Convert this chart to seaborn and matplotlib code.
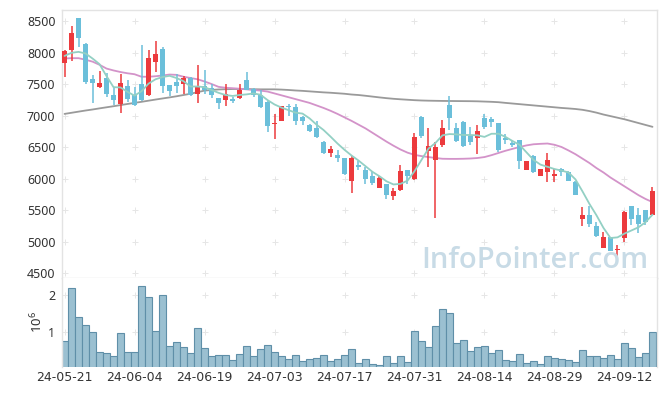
import matplotlib
matplotlib.use("Agg")
import matplotlib.pyplot as plt
import numpy as np
import pandas as pd
import seaborn as sns

# daily candles, 85 trading days (24-05-21 .. 24-09-20)
opens = [
    7840, 8045, 8550, 8140, 7580, 7450, 7600, 7325, 7180, 7470,
    7335, 7510, 7325, 7855, 8060, 7485, 7530, 7500, 7605, 7350,
    7480, 7445, 7280, 7245, 7265, 7280, 7565, 7430, 7335, 7220,
    6870, 6910, 7155, 7145, 6975, 6855, 6800, 6585, 6415, 6385,
    6335, 5970, 6220, 6135, 6040, 5855, 5910, 5730, 5815, 6135,
    5995, 6975, 6435, 6295, 6530, 7165, 6800, 6895, 6675, 6655,
    6965, 6945, 6880, 6650, 6570, 6615, 6145, 6365, 6045, 6115,
    6050, 6155, 6110, 5955, 5365, 5425, 5250, 4905, 5080, 4870,
    5055, 5570, 5425, 5505, 5425,
]
highs = [
    8045, 8425, 8550, 8150, 7650, 7715, 7680, 7450, 7670, 7565,
    7450, 8130, 8045, 8180, 8095, 7485, 7660, 7630, 7615, 7800,
    7720, 7500, 7280, 7510, 7300, 7510, 7690, 7445, 7415, 7230,
    7025, 7155, 7195, 7185, 7000, 6865, 6920, 6595, 6520, 6450,
    6335, 6365, 6290, 6190, 6105, 6050, 5920, 5860, 6220, 6135,
    6730, 7000, 6800, 6580, 6930, 7320, 6880, 6920, 6830, 6860,
    7030, 6985, 6880, 6710, 6600, 6615, 6290, 6370, 6160, 6415,
    6155, 6170, 6130, 5960, 5545, 5570, 5320, 5160, 5080, 4950,
    5490, 5570, 5535, 5510, 5875,
]
lows = [
    7620, 7870, 8100, 7510, 7200, 7440, 7300, 7165, 7040, 7220,
    7150, 7230, 7310, 7700, 7360, 7310, 7360, 7340, 7315, 7200,
    7340, 7280, 7110, 7160, 7200, 7265, 7405, 7300, 7130, 6750,
    6630, 6910, 7000, 6855, 6855, 6735, 6645, 6400, 6345, 6265,
    6055, 5780, 6135, 5925, 5900, 5855, 5680, 5670, 5805, 5920,
    5985, 6640, 6185, 5385, 6510, 6780, 6580, 6500, 6530, 6390,
    6790, 6815, 6425, 6555, 6500, 6155, 6145, 6095, 6040, 5955,
    5955, 6050, 5970, 5745, 5255, 5235, 5080, 4905, 4860, 4765,
    5000, 5265, 5135, 5265, 5420,
]
closes = [
    8030, 8310, 8240, 7540, 7520, 7520, 7345, 7245, 7515, 7260,
    7165, 7255, 7915, 7980, 7475, 7395, 7470, 7595, 7325, 7480,
    7405, 7325, 7200, 7340, 7235, 7415, 7415, 7325, 7140, 6840,
    6885, 7155, 7135, 6910, 6910, 6760, 6665, 6415, 6465, 6330,
    6070, 6330, 6185, 5990, 5930, 6005, 5740, 5800, 6130, 6040,
    6670, 6685, 6525, 6510, 6800, 6970, 6595, 6515, 6585, 6755,
    6820, 6905, 6455, 6615, 6530, 6290, 6285, 6100, 6155, 6300,
    6075, 6100, 5970, 5750, 5425, 5285, 5085, 5080, 4860, 4880,
    5470, 5360, 5280, 5310, 5810,
]
# volume in millions of shares
volume_m = [
    0.77, 2.18, 1.40, 1.19, 1.00, 0.46, 0.44, 0.36, 0.97, 0.46,
    0.46, 2.23, 1.94, 1.03, 1.99, 0.63, 0.73, 0.60, 0.44, 1.11,
    0.57, 0.36, 0.38, 0.38, 0.25, 0.41, 0.63, 0.36, 0.55, 0.65,
    0.46, 0.36, 0.28, 0.38, 0.22, 0.28, 0.30, 0.38, 0.22, 0.28,
    0.38, 0.55, 0.17, 0.28, 0.14, 0.12, 0.36, 0.17, 0.36, 0.20,
    1.03, 0.76, 0.60, 1.16, 1.62, 1.51, 0.71, 0.79, 0.49, 0.60,
    0.63, 0.44, 0.52, 0.25, 0.22, 0.41, 0.17, 0.22, 0.14, 0.36,
    0.30, 0.28, 0.25, 0.20, 0.52, 0.36, 0.36, 0.30, 0.38, 0.28,
    0.71, 0.57, 0.33, 0.44, 1.00,
]
# moving averages as drawn on the chart
ma_short = [
    7950, 8000, 8015, 7990, 7910, 7820, 7630, 7455, 7450, 7380,
    7320, 7390, 7510, 7580, 7615, 7635, 7600, 7550, 7465, 7465,
    7455, 7410, 7365, 7330, 7315, 7330, 7340, 7355, 7335, 7250,
    7180, 7130, 7090, 7050, 7035, 6960, 6860, 6775, 6670, 6560,
    6460, 6370, 6290, 6200, 6110, 6040, 5960, 5910, 5920, 5970,
    6120, 6300, 6480, 6570, 6690, 6710, 6705, 6695, 6695, 6690,
    6665, 6715, 6715, 6665, 6600, 6540, 6420, 6300, 6225, 6190,
    6155, 6130, 6100, 5990, 5800, 5600, 5420, 5220, 5060, 5070,
    5130, 5180, 5230, 5310, 5430,
]
ma_mid = [
    7910, 7915, 7915, 7890, 7860, 7810, 7750, 7720, 7695, 7675,
    7660, 7620, 7620, 7628, 7640, 7655, 7650, 7620, 7600, 7580,
    7545, 7505, 7460, 7445, 7438, 7430, 7420, 7410, 7400, 7385,
    7355, 7325, 7295, 7265, 7235, 7205, 7165, 7125, 7080, 7030,
    6975, 6920, 6860, 6800, 6730, 6660, 6590, 6525, 6465, 6415,
    6380, 6360, 6345, 6330, 6318, 6316, 6316, 6318, 6322, 6330,
    6345, 6375, 6410, 6445, 6475, 6505, 6530, 6548, 6555, 6560,
    6540, 6505, 6450, 6390, 6320, 6250, 6170, 6100, 6020, 5950,
    5880, 5810, 5740, 5680, 5630,
]
ma_long = [
    7030, 7048, 7066, 7084, 7100, 7118, 7135, 7152, 7170, 7188,
    7205, 7222, 7240, 7258, 7275, 7292, 7310, 7330, 7350, 7375,
    7400, 7410, 7418, 7422, 7425, 7425, 7424, 7422, 7420, 7420,
    7420, 7416, 7410, 7402, 7396, 7388, 7380, 7372, 7366, 7358,
    7350, 7338, 7330, 7318, 7305, 7292, 7280, 7270, 7262, 7255,
    7248, 7243, 7240, 7238, 7236, 7235, 7234, 7233, 7232, 7230,
    7226, 7222, 7216, 7205, 7195, 7185, 7175, 7165, 7155, 7145,
    7135, 7125, 7117, 7108, 7095, 7075, 7050, 7020, 6995, 6970,
    6945, 6915, 6885, 6855, 6825,
]
tick_labels = [
    "24-05-21", "24-06-04", "24-06-19", "24-07-03", "24-07-17",
    "24-07-31", "24-08-14", "24-08-29", "24-09-12",
]
price_ticks = [4500, 5000, 5500, 6000, 6500, 7000, 7500, 8000, 8500]
volume_ticks = [1, 2]

UP_COLOR = "#ec3a3d"
DOWN_COLOR = "#6bbfda"
GRID_COLOR = "#e6e6e6"
SPINE_COLOR = "#e3e3e3"
TEXT_COLOR = "#333333"


def style_axis(ax) -> None:
    for side in ["left", "top", "right", "bottom"]:
        ax.spines[side].set_color(SPINE_COLOR)
        ax.spines[side].set_linewidth(1.0)
    ax.tick_params(length=0, pad=4.5, labelsize=9, colors=TEXT_COLOR)
    ax.grid(False)
    ax.set_facecolor("white")


def plus_grid(ax, xs, ys) -> None:
    gx, gy = np.meshgrid(xs, ys)
    ax.scatter(gx.ravel(), gy.ravel(), marker="+", s=14, linewidths=0.7,
               color=GRID_COLOR, zorder=0, clip_on=False)


def main() -> None:
    sns.set_theme(style="white")
    plt.rcParams["font.family"] = ["Noto Sans", "DejaVu Sans"]

    df = pd.DataFrame({
        "open": opens, "high": highs, "low": lows, "close": closes,
        "volume": volume_m, "ma5": ma_short, "ma20": ma_mid, "ma120": ma_long,
    })
    df["idx"] = np.arange(len(df))
    up = df["close"] >= df["open"]
    colors = np.where(up, UP_COLOR, DOWN_COLOR)
    tick_pos = list(range(0, 10 * len(tick_labels), 10))

    fig = plt.figure(figsize=(6.65, 3.96), dpi=100)
    ax = fig.add_axes([0.0928, 0.2980, 0.8947, 0.6760])
    ax_vol = fig.add_axes([0.0928, 0.0740, 0.8947, 0.2240], sharex=ax)

    # price panel
    plus_grid(ax, tick_pos, price_ticks)
    sns.lineplot(data=df, x="idx", y="ma120", ax=ax, color="#9a9a9a", lw=1.3, zorder=2)
    sns.lineplot(data=df, x="idx", y="ma20", ax=ax, color="#d393c9", lw=1.3, zorder=2)
    ax.vlines(df["idx"], df["low"], df["high"], colors=colors, lw=1.1, zorder=3)
    ax.bar(df["idx"], (df["close"] - df["open"]).abs().clip(lower=12),
           bottom=df[["open", "close"]].min(axis=1), width=0.68,
           color=colors, linewidth=0, zorder=4)
    sns.lineplot(data=df, x="idx", y="ma5", ax=ax, color="#93d0c4", lw=1.3, zorder=5)

    ax.set_ylim(4425, 8675)
    ax.set_yticks(price_ticks)
    ax.set_xlim(-0.4, 84.6)
    ax.set_xlabel("")
    ax.set_ylabel("")
    style_axis(ax)
    ax.tick_params(axis="x", labelbottom=False)

    # volume panel
    plus_grid(ax_vol, tick_pos, volume_ticks)
    ax_vol.bar(df["idx"], df["volume"], width=1.0, color="#9bc0d1",
               edgecolor="#5f8fa8", linewidth=0.8, zorder=2)
    ax_vol.set_ylim(0.078, 2.456)
    ax_vol.set_yticks(volume_ticks)
    ax_vol.set_xticks(tick_pos)
    ax_vol.set_xticklabels(tick_labels, family=["DejaVu Sans"])
    ax_vol.set_xlabel("")
    ax_vol.set_ylabel(r"$\mathregular{10^6}$", fontsize=9.5, color=TEXT_COLOR, labelpad=2)
    style_axis(ax_vol)
    ax_vol.spines["bottom"].set_visible(False)
    ax_vol.spines["top"].set_visible(False)
    ax_vol.tick_params(axis="x", labelsize=9, pad=3)

    fig.text(648 / 665, 1 - 268 / 396, "InfoPointer.com", ha="right", va="baseline",
             fontsize=21, fontweight="semibold", family=["Open Sans", "DejaVu Sans"],
             color="#c8dbe6", zorder=1)

    fig.savefig("out.png", dpi=100, facecolor="white")
    plt.close(fig)


if __name__ == "__main__":
    main()
